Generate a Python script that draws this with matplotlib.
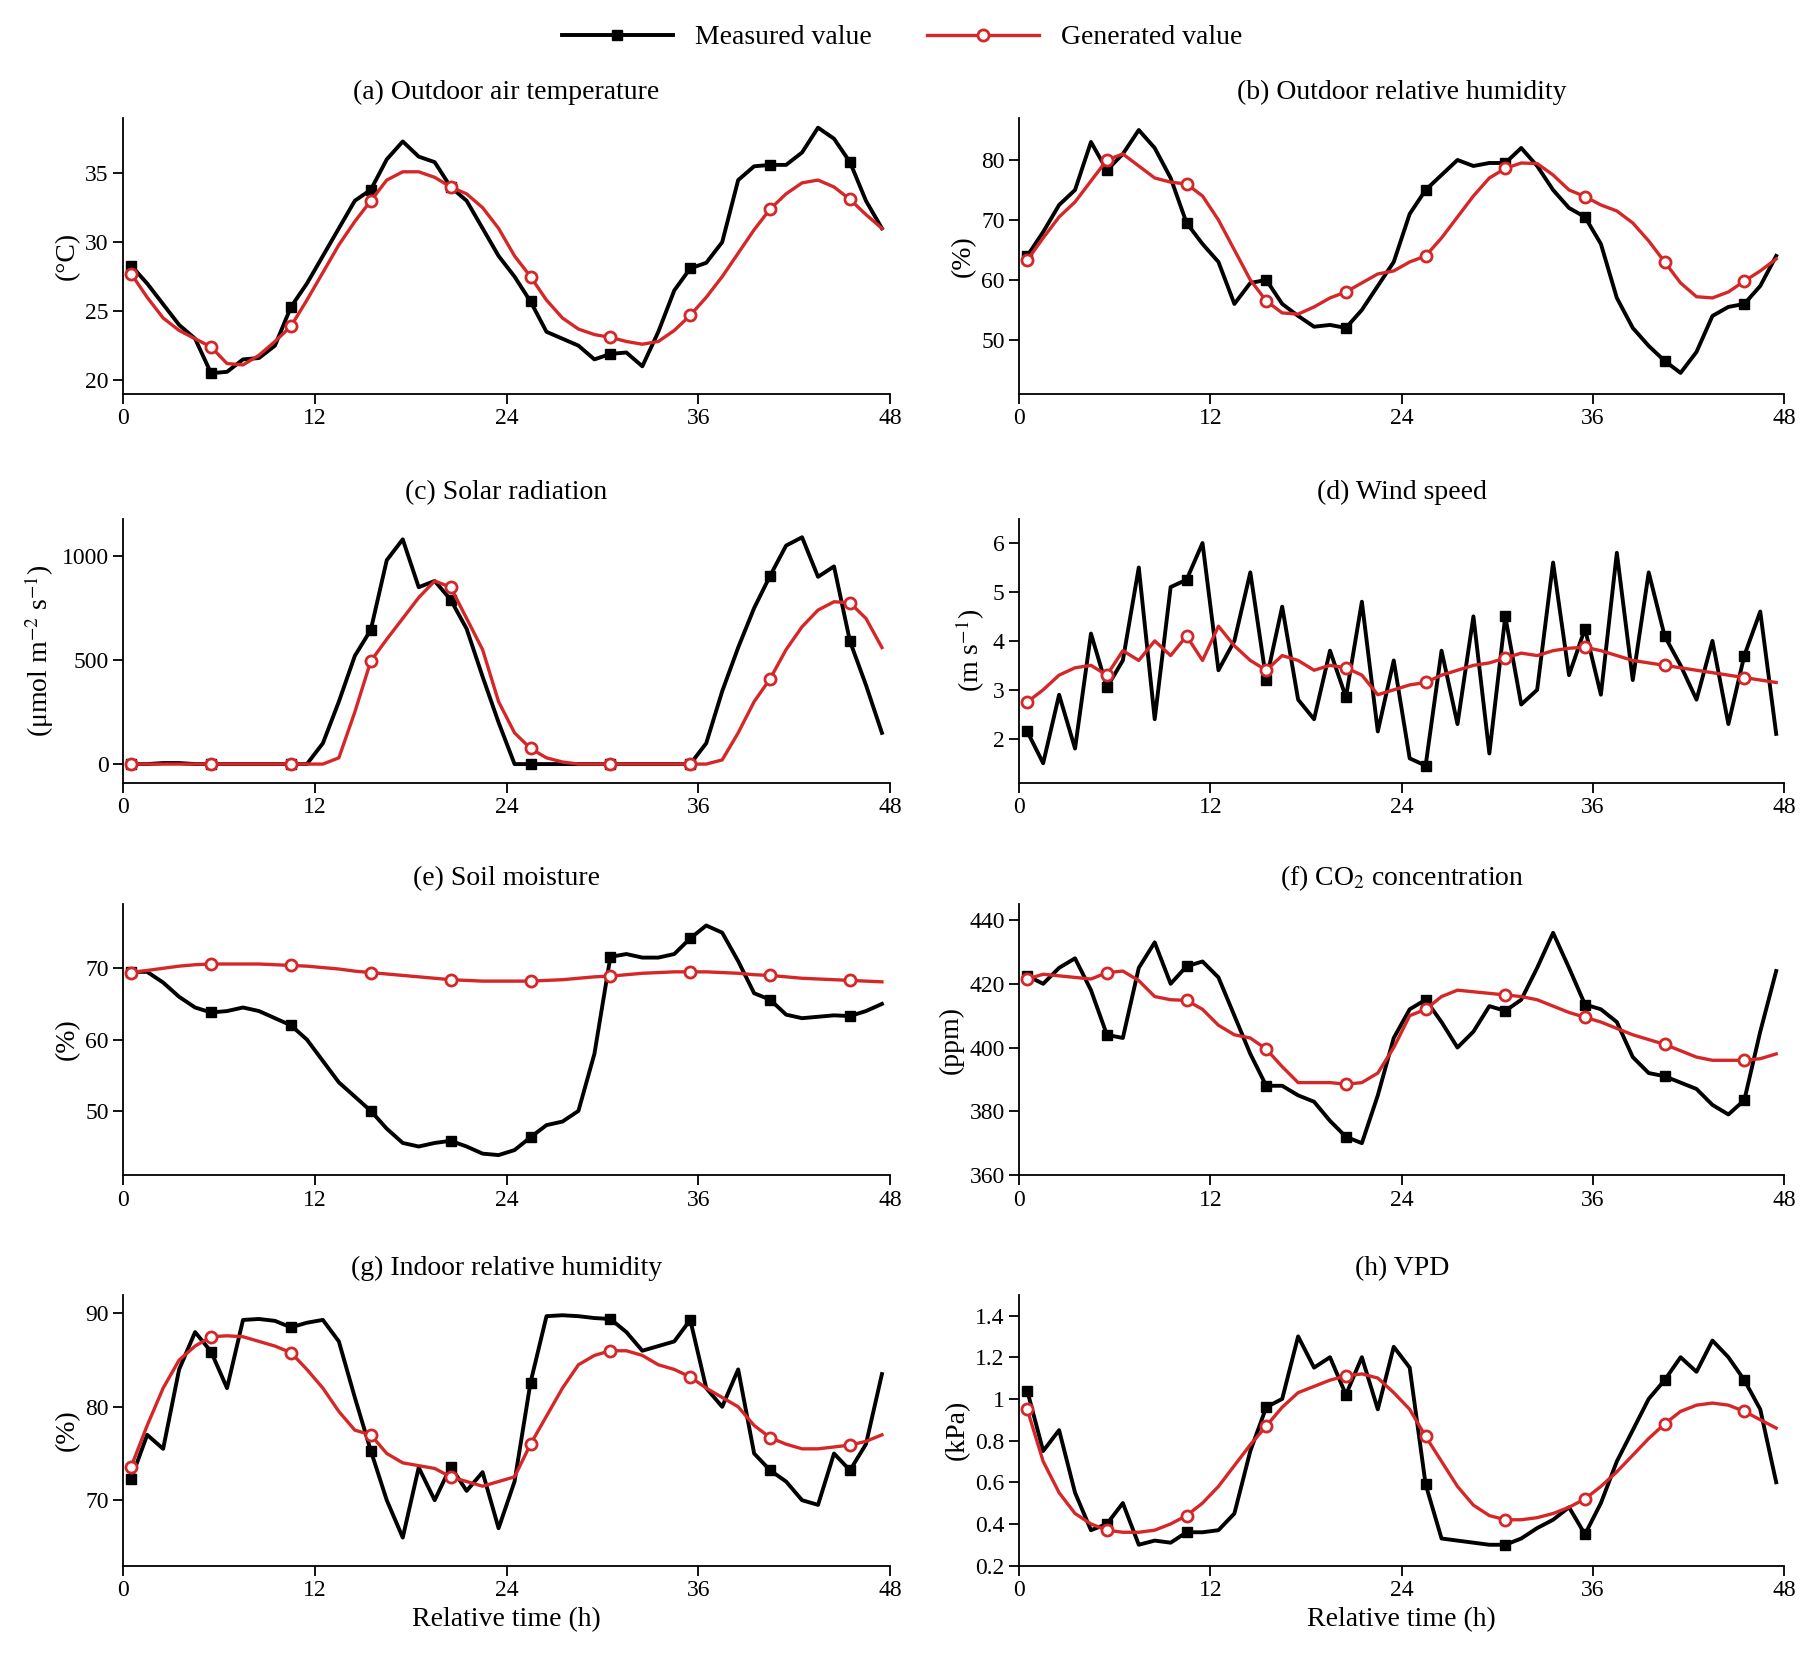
import numpy as np
import matplotlib
matplotlib.use("Agg")
import matplotlib.pyplot as plt

plt.rcParams['font.family'] = ['Liberation Serif', 'DejaVu Serif']
plt.rcParams['font.size'] = 16
plt.rcParams['mathtext.fontset'] = 'stix'

t = np.arange(0.5, 48, 1.0)

temp_meas = [28.3,27,25.5,24,23,20.5,20.6,21.5,21.6,22.5,25.3,27,29,31,33,33.8,36,37.3,36.2,35.8,34,33,31,29,27.5,25.7,23.5,23,22.5,21.5,21.9,22,21,23.5,26.5,28.1,28.5,30,34.5,35.5,35.6,35.6,36.5,38.3,37.5,35.8,33,31]
temp_gen = [27.7,26,24.5,23.6,23,22.4,21.2,21.1,21.8,22.8,23.9,25.8,27.8,29.8,31.5,33,34.5,35.1,35.1,34.7,34,33.5,32.5,31,29,27.5,25.8,24.5,23.7,23.3,23.1,22.8,22.6,22.8,23.6,24.7,26,27.5,29.2,30.9,32.4,33.5,34.3,34.5,34,33.1,32,31]

rh_meas = [64,68,72.5,75,83,78.3,81,85,82,77,69.5,66,63,56,59.5,60,56,54,52.2,52.5,52,55,59,63,71,75,77.5,80,79,79.5,79.5,82,79,75,72,70.5,66,57,52,49,46.5,44.5,48,54,55.5,56,59,64]
rh_gen = [63.3,67,70.5,73,76.5,80,81,79,77,76.3,76,74,70,65,60,56.5,54.5,54.3,55.5,57,58,59.5,61,61.5,63,64,67,70.5,74,77,78.6,79.5,79.4,77.5,75,73.9,72.5,71.5,69.5,66.5,63,59.5,57.2,57,58,59.8,61.5,63.5]

sol_meas = [0,0,5,5,0,0,0,0,0,0,0,0,100,300,520,645,980,1080,850,880,790,650,420,200,0,0,0,0,0,0,0,0,0,0,0,0,100,350,560,750,905,1050,1090,900,950,590,380,150]
sol_gen = [0,0,0,0,0,0,0,0,0,0,0,0,0,30,250,495,600,700,800,880,850,700,550,300,150,75,30,10,0,0,0,0,0,0,0,0,0,20,150,300,410,550,660,740,780,775,700,560]

wind_meas = [2.15,1.5,2.9,1.8,4.15,3.05,3.6,5.5,2.4,5.1,5.25,6.0,3.4,4.0,5.4,3.2,4.7,2.8,2.4,3.8,2.85,4.8,2.15,3.6,1.6,1.45,3.8,2.3,4.5,1.7,4.5,2.7,3.0,5.6,3.3,4.25,2.9,5.8,3.2,5.4,4.1,3.5,2.8,4.0,2.3,3.7,4.6,2.1]
wind_gen = [2.75,3.0,3.3,3.45,3.5,3.3,3.8,3.6,4.0,3.7,4.1,3.6,4.3,3.9,3.6,3.4,3.7,3.6,3.4,3.5,3.45,3.3,2.9,3.0,3.1,3.15,3.3,3.4,3.5,3.55,3.65,3.75,3.7,3.8,3.85,3.87,3.8,3.7,3.6,3.55,3.5,3.45,3.4,3.35,3.3,3.25,3.2,3.15]

soil_meas = [69.5,69.5,68,66,64.5,63.8,64,64.5,64,63,62,60,57,54,52,50,47.5,45.5,45,45.5,45.8,45,44,43.8,44.5,46.3,48,48.5,50,58,71.6,72,71.5,71.5,72,74.2,76,75,71,66.5,65.6,63.5,63,63.2,63.4,63.3,64,65]
soil_gen = [69.4,69.7,70,70.3,70.5,70.6,70.6,70.6,70.6,70.5,70.4,70.3,70.1,69.9,69.6,69.4,69.2,69,68.8,68.6,68.4,68.3,68.2,68.2,68.2,68.2,68.3,68.4,68.6,68.8,68.9,69.1,69.3,69.4,69.5,69.5,69.5,69.4,69.3,69.1,69.0,68.8,68.6,68.5,68.4,68.3,68.2,68.1]

co2_meas = [422.5,420,425,428,418,404,403,425,433,420,425.5,427,422,410,398,388,388,385,383,377,372,370,385,403,412,415,408,400,405,413,411.5,415,425,436,425,413.5,412,408,397,392,391,389,387,382,379,383.5,405,424]
co2_gen = [421.5,423,422.5,422,421.5,423.5,424,421,416,415,414.8,412,407,404,403,399.5,394,389,389,389,388.5,389,392,400,410,412,416,418,417.5,417,416.5,416,415,413,411,409.5,408,406,404,402.5,401,399,397,396,396,396,396.5,398]

inrh_meas = [72.3,77,75.5,84,88,85.9,82,89.3,89.4,89.2,88.5,89,89.3,87,81,75.3,70,66,73.5,70,73.6,71,73,67,72,82.6,89.7,89.8,89.7,89.5,89.4,88,86,86.5,87,89.3,82,80,84,75,73.2,72,70,69.5,75,73.2,76,83.5]
inrh_gen = [73.6,78,82,85,86.5,87.5,87.6,87.5,87,86.5,85.8,84,82,79.5,77.5,77,75,74,73.7,73.4,72.5,72,71.5,72,72.5,76,79,82,84.5,85.5,86,86,85.5,84.5,84,83.2,82,81,80,78,76.7,76,75.5,75.5,75.7,75.9,76.3,77]

vpd_meas = [1.04,0.75,0.85,0.55,0.37,0.4,0.5,0.3,0.32,0.31,0.36,0.36,0.37,0.45,0.75,0.96,1.0,1.3,1.15,1.2,1.02,1.2,0.95,1.25,1.15,0.59,0.33,0.32,0.31,0.3,0.3,0.33,0.38,0.42,0.48,0.35,0.5,0.7,0.85,1.0,1.09,1.2,1.13,1.28,1.2,1.09,0.95,0.6]
vpd_gen = [0.95,0.7,0.55,0.45,0.4,0.37,0.36,0.36,0.37,0.4,0.44,0.5,0.58,0.68,0.78,0.87,0.96,1.03,1.06,1.09,1.11,1.12,1.1,1.03,0.95,0.82,0.7,0.58,0.49,0.44,0.42,0.42,0.43,0.45,0.48,0.52,0.58,0.65,0.73,0.81,0.88,0.94,0.97,0.98,0.97,0.94,0.9,0.86]

titles = ["(a) Outdoor air temperature", "(b) Outdoor relative humidity", "(c) Solar radiation",
          "(d) Wind speed", "(e) Soil moisture", "(f) CO$_2$ concentration",
          "(g) Indoor relative humidity", "(h) VPD"]
ylabels = ["(°C)", "(%)", "(μmol m$^{-2}$ s$^{-1}$)", "(m s$^{-1}$)", "(%)", "(ppm)", "(%)", "(kPa)"]
meas = [temp_meas, rh_meas, sol_meas, wind_meas, soil_meas, co2_meas, inrh_meas, vpd_meas]
gen = [temp_gen, rh_gen, sol_gen, wind_gen, soil_gen, co2_gen, inrh_gen, vpd_gen]
ylims = [(19, 39), (41, 87), (-90, 1180), (1.1, 6.5), (41, 79), (360, 445), (63, 92), (0.2, 1.5)]
yticks = [[20,25,30,35], [50,60,70,80], [0,500,1000], [2,3,4,5,6], [50,60,70],
          [360,380,400,420,440], [70,80,90], [0.2,0.4,0.6,0.8,1.0,1.2,1.4]]
xticks = [0, 12, 24, 36, 48]

fig = plt.figure(figsize=(18.04, 16.62), dpi=100)
rows = [(0.763, 0.166), (0.529, 0.159), (0.293, 0.163), (0.058, 0.163)]
cols = [(0.0683, 0.425), (0.565, 0.424)]
for i in range(8):
    r, c = divmod(i, 2)
    ax = fig.add_axes([cols[c][0], rows[r][0], cols[c][1], rows[r][1]])
    ax.plot(t, meas[i], color='black', lw=2.8, marker='s', ms=7, markevery=5,
            label='Measured value', zorder=2)
    ax.plot(t, gen[i], color='#d62728', lw=2.4, marker='o', ms=8, mfc='white',
            mew=2, markevery=5, label='Generated value', zorder=3)
    ax.set_xlim(0, 48)
    ax.set_xticks(xticks)
    ax.set_ylim(*ylims[i])
    ax.set_yticks(yticks[i])
    if i == 7:
        ax.set_yticklabels(['0.2','0.4','0.6','0.8','1','1.2','1.4'])
    ax.set_title(titles[i], fontsize=20, pad=14)
    ax.set_ylabel(ylabels[i], fontsize=20)
    ax.spines['top'].set_visible(False)
    ax.spines['right'].set_visible(False)
    ax.tick_params(direction='out', length=7, width=1.3, labelsize=17)
    for s in ax.spines.values():
        s.set_linewidth(1.3)
    if r == 3:
        ax.set_xlabel('Relative time (h)', fontsize=20)
    if i == 0:
        h, l = ax.get_legend_handles_labels()
        fig.legend(h, l, loc='upper center', bbox_to_anchor=(0.5, 1.0), ncol=2,
                   frameon=False, fontsize=20, handlelength=4, columnspacing=2)

fig.savefig('out.png', dpi=100)
